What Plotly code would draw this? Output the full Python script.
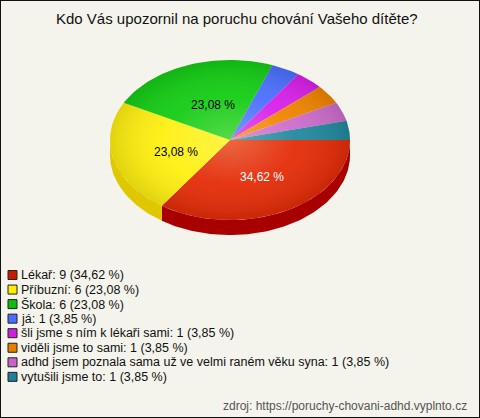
import numpy as np
import plotly.graph_objects as go

# ---- data ----
categories = ["Lékař", "Příbuzní", "Škola", "já", "šli jsme s ním k lékaři sami",
              "viděli jsme to sami", "adhd jsem poznala sama už ve velmi raném věku syna",
              "vytušili jsme to"]
counts = [9, 6, 6, 1, 1, 1, 1, 1]
top_colors = ["#e42c08", "#fff010", "#14cc14", "#4a70ff", "#d820ea", "#f08400", "#cc6ccc", "#22889e"]
side_colors = ["#a80000", "#e0c800", "#0a9a0a", "#3050d0", "#a010b0", "#c06000", "#a050a0", "#186878"]
legend_colors = ["#c81a00", "#ffee00", "#10bb10", "#4a6cff", "#cc22dd", "#e67e00", "#c864c8", "#1f7f99"]
title = "Kdo Vás upozornil na poruchu chování Vašeho dítěte?"
source = "zdroj: https://poruchy-chovani-adhd.vyplnto.cz"

# ---- layout constants ----
W, H = 480, 418
cx, cy, rx, ry, depth = 230, 140, 120, 80, 15
FONT = "Liberation Sans, Arial, sans-serif"

total = sum(counts)
pct = [c / total * 100 for c in counts]
ang = np.cumsum([0] + [p * 3.6 for p in pct])


def arc(a0, a1, dz=0.0, n=None):
    n = n or max(4, int(abs(a1 - a0) / 1.5) + 2)
    t = np.radians(np.linspace(a0, a1, n))
    return cx + rx * np.cos(t), cy + ry * np.sin(t) + dz


fig = go.Figure()

# side walls (front half only: 0..180 deg, screen y down)
for i in range(len(counts)):
    a0, a1 = max(ang[i], 0), min(ang[i + 1], 180)
    if a1 <= a0:
        continue
    xt, yt = arc(a0, a1)
    xb, yb = arc(a1, a0, depth)
    fig.add_trace(go.Scatter(x=np.r_[xt, xb, xt[0]], y=np.r_[yt, yb, yt[0]], mode="lines",
                             fill="toself", fillcolor=side_colors[i], line=dict(width=0),
                             hoverinfo="skip", showlegend=False))

# top surfaces
for i in range(len(counts)):
    xa, ya = arc(ang[i], ang[i + 1])
    fig.add_trace(go.Scatter(x=np.r_[cx, xa, cx], y=np.r_[cy, ya, cy], mode="lines",
                             fill="toself", fillcolor=top_colors[i], line=dict(width=0),
                             name=categories[i], hoverinfo="name", showlegend=False))

# lighting overlay
xe, ye = arc(0, 360, n=240)
fig.add_trace(go.Scatter(x=xe, y=ye, mode="lines", fill="toself", line=dict(width=0),
                         fillgradient=dict(type="radial",
                                           colorscale=[[0, "rgba(255,255,200,0.28)"],
                                                       [0.55, "rgba(255,255,255,0.05)"],
                                                       [1, "rgba(0,0,0,0.12)"]]),
                         hoverinfo="skip", showlegend=False))

# slice labels (only big slices)
for i in range(len(counts)):
    if pct[i] < 10:
        continue
    mid = np.radians((ang[i] + ang[i + 1]) / 2)
    fig.add_annotation(x=cx + 4 + 0.5 * rx * np.cos(mid), y=cy + 2 + 0.5 * ry * np.sin(mid),
                       text=f"{pct[i]:.2f} %".replace(".", ","), showarrow=False,
                       font=dict(family=FONT, size=12, color="white" if i == 0 else "black"))

# custom legend
ly0, lstep = 275, 14.55
ly = [ly0 + k * lstep for k in range(len(counts))]
fig.add_trace(go.Scatter(x=[12.5] * len(counts), y=ly, mode="markers",
                         marker=dict(symbol="square", size=9, color=legend_colors,
                                     line=dict(color="#222", width=1)),
                         hoverinfo="skip", showlegend=False))
for k in range(len(counts)):
    fig.add_annotation(x=19, y=ly[k], xanchor="left", yanchor="middle",
                       text=f"{categories[k]}: {counts[k]} ({pct[k]:.2f} %)".replace(".", ","),
                       showarrow=False, font=dict(family=FONT, size=12.5, color="#111"))

fig.add_annotation(x=237, y=18, text=title, showarrow=False, xanchor="center",
                   yanchor="middle", font=dict(family=FONT, size=15, color="#111"))
fig.add_annotation(x=W - 11, y=406, text=source, showarrow=False, xanchor="right",
                   yanchor="middle", font=dict(family=FONT, size=12, color="#555"))

fig.update_layout(
    width=W, height=H, margin=dict(l=0, r=0, t=0, b=0),
    paper_bgcolor="#f4f4ec", plot_bgcolor="#f4f4ec",
    xaxis=dict(range=[0, W], visible=False, fixedrange=True),
    yaxis=dict(range=[H, 0], visible=False, fixedrange=True),
    shapes=[dict(type="rect", xref="paper", yref="paper", x0=0, y0=0, x1=1, y1=1,
                 line=dict(color="#111", width=2))],
    showlegend=False,
)

fig.write_html("out.html", config={"displayModeBar": False},
               post_script="document.body.style.margin='0';document.body.style.overflow='hidden';")
